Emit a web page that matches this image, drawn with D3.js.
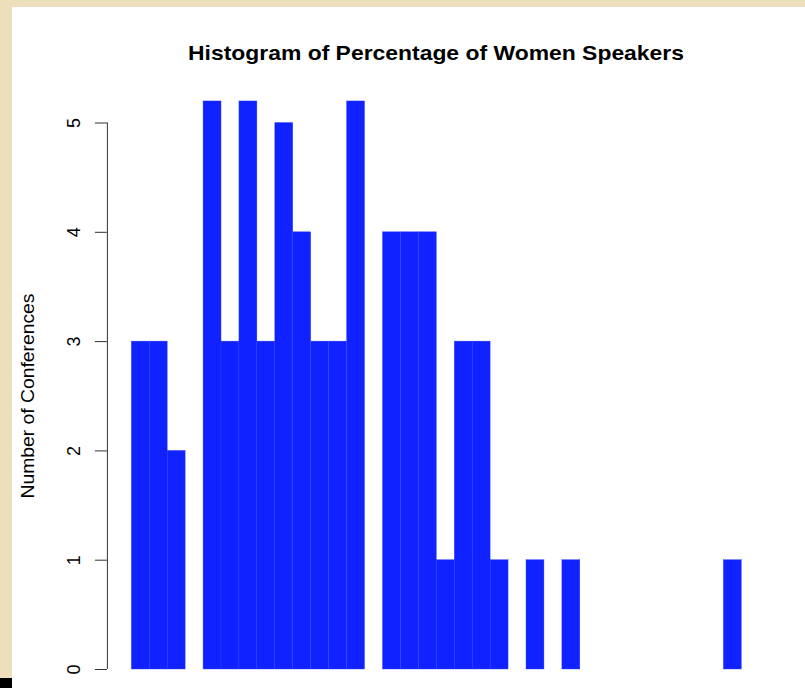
<!DOCTYPE html>
<html>
<head>
<meta charset="utf-8">
<script src="https://cdn.jsdelivr.net/npm/d3@7"></script>
<style>
    body { margin: 0; background: #eedfbc; }
    #chart { width: 805px; height: 688px; }
    text { font-family: "Liberation Sans", Arial, sans-serif; fill: #000; }
</style>
</head>
<body>
<div id="chart"></div>
<script>
// histogram bins (34 equal-width bins), counts per bin; bars above 5 are cut off by the plot area
let binIndex = d3.range(34);
let counts = [3, 3, 2, 0, 6, 3, 6, 3, 5, 4, 3, 3, 6, 0, 4, 4, 4, 1, 3, 3, 1, 0, 1, 0, 1, 0, 0, 0, 0, 0, 0, 0, 0, 1];
let yTicks = [0, 1, 2, 3, 4, 5];

let title = "Histogram of Percentage of Women Speakers";
let yTitle = "Number of Conferences";

let width = 805, height = 688;

let svg = d3.select("#chart").append("svg")
    .attr("width", width)
    .attr("height", height);

// page frame: white sheet on beige, small black corner
svg.append("rect")
    .attr("x", 0).attr("y", 0)
    .attr("width", width).attr("height", height)
    .attr("fill", "#eedfbc");
svg.append("rect")
    .attr("x", 12).attr("y", 7)
    .attr("width", width - 12).attr("height", height - 7)
    .attr("fill", "#ffffff");
svg.append("rect")
    .attr("x", 0).attr("y", 678)
    .attr("width", 12).attr("height", 10)
    .attr("fill", "#000");

// scales (R style: 4% padding on each side)
let x = d3.scaleLinear()
    .domain([0, binIndex.length])
    .range([131.3, 741.3]);

let y = d3.scaleLinear()
    .domain([0, 5])
    .range([669, 122.5]);

let plotTop = y(5.2);

svg.append("clipPath")
    .attr("id", "plot-clip")
    .append("rect")
    .attr("x", 100).attr("y", plotTop)
    .attr("width", 680).attr("height", 669 - plotTop + 1);

// bars
svg.append("g")
    .attr("clip-path", "url(#plot-clip)")
    .selectAll("rect")
    .data(binIndex.filter(i => counts[i] > 0))
    .enter().append("rect")
    .attr("x", i => x(i))
    .attr("width", i => x(i + 1) - x(i))
    .attr("y", i => y(counts[i]))
    .attr("height", i => y(0) - y(counts[i]))
    .attr("fill", "#0f22ff")
    .attr("stroke", "#3446ff")
    .attr("stroke-width", 0.4);

// y axis
let yAxis = d3.axisLeft(y)
    .tickValues(yTicks)
    .tickSize(12)
    .tickPadding(0)
    .tickFormat(d3.format("d"));

let gy = svg.append("g")
    .attr("transform", "translate(106.9,0)")
    .call(yAxis);

gy.select(".domain")
    .attr("d", `M0.5,${y(0)}H0.5V${y(5)}H0.5`)
    .attr("stroke", "#333");
gy.selectAll(".tick line").attr("stroke", "#333");
gy.selectAll(".tick text")
    .attr("x", 0)
    .attr("dy", 0)
    .attr("transform", "translate(-27,0) rotate(-90)")
    .attr("text-anchor", "middle")
    .style("font-size", "18px");

// titles
svg.append("text")
    .attr("x", 436)
    .attr("y", 60)
    .attr("text-anchor", "middle")
    .attr("textLength", 496)
    .attr("lengthAdjust", "spacingAndGlyphs")
    .style("font-size", "21px")
    .style("font-weight", "bold")
    .text(title);

svg.append("text")
    .attr("transform", "translate(34,396) rotate(-90)")
    .attr("text-anchor", "middle")
    .attr("textLength", 205)
    .attr("lengthAdjust", "spacingAndGlyphs")
    .style("font-size", "18px")
    .text(yTitle);
</script>
</body>
</html>
